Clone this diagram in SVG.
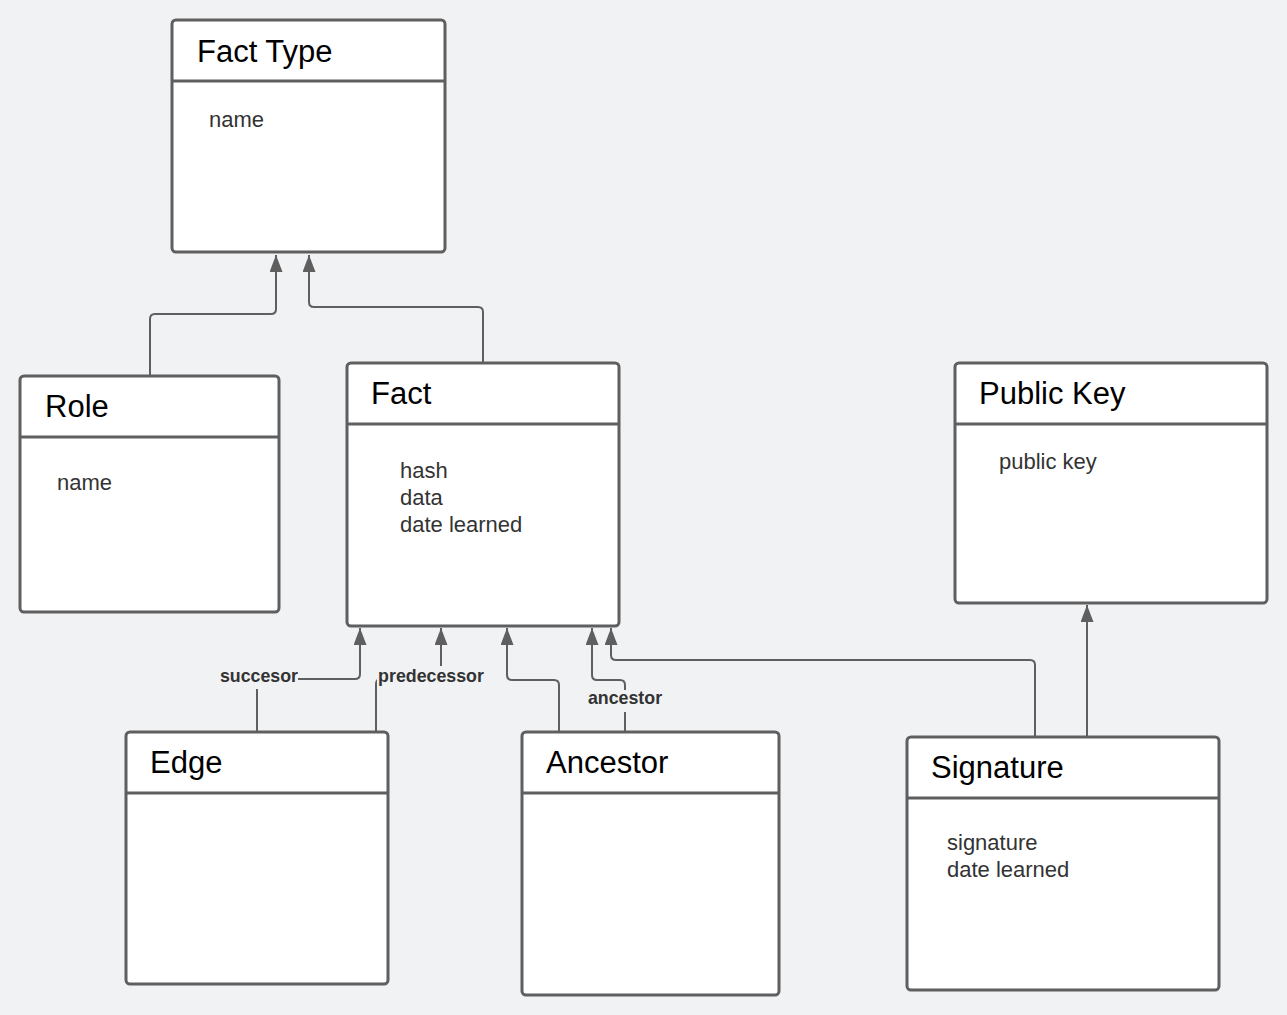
<svg xmlns="http://www.w3.org/2000/svg" width="1287" height="1015" viewBox="0 0 1287 1015">
<style>
.box{fill:#ffffff;stroke:#5f5f5f;stroke-width:3}
.div{stroke:#5f5f5f;stroke-width:3}
.title{font-family:"Liberation Sans",Arial,sans-serif;font-size:31px;fill:#000}
.attr{font-family:"Liberation Sans",Arial,sans-serif;font-size:22px;fill:#333}
.conn{fill:none;stroke:#5f5f5f;stroke-width:2}
.lbl{font-family:"Liberation Sans",Arial,sans-serif;font-size:17.8px;font-weight:bold;fill:#333;text-anchor:middle}
.lblbg{fill:#f1f2f4}
</style>
<defs>
<marker id="arr" viewBox="0 0 17 13" refX="17" refY="6.5" markerWidth="17" markerHeight="13" markerUnits="userSpaceOnUse" orient="auto">
<path d="M0,0 L17,6.5 L0,13 Z" fill="#5f5f5f"/>
</marker>
</defs>
<rect width="1287" height="1015" fill="#f1f2f4"/>

<g id="connectors">
<path class="conn" d="M150,376 V319 Q150,314 155,314 H271 Q276,314 276,309 V255" marker-end="url(#arr)"/>
<path class="conn" d="M483,363 V312 Q483,307 478,307 H314 Q309,307 309,302 V255" marker-end="url(#arr)"/>
<path class="conn" d="M257,732 V679 H355 Q360,679 360,674 V628" marker-end="url(#arr)"/>
<path class="conn" d="M376,732 V684 Q376,679 381,679 H436 Q441,679 441,674 V628" marker-end="url(#arr)"/>
<path class="conn" d="M559,732 V685 Q559,680 554,680 H512 Q507,680 507,675 V628" marker-end="url(#arr)"/>
<path class="conn" d="M625,732 V685 Q625,680 620,680 H597 Q592,680 592,675 V628" marker-end="url(#arr)"/>
<path class="conn" d="M1035,737 V665 Q1035,660 1030,660 H616 Q611,660 611,655 V628" marker-end="url(#arr)"/>
<path class="conn" d="M1087,737 V605" marker-end="url(#arr)"/>
<rect class="lblbg" x="218" y="666" width="80" height="23"/>
<text class="lbl" x="259" y="682">succesor</text>
<rect class="lblbg" x="377" y="666" width="108" height="23"/>
<text class="lbl" x="431" y="682">predecessor</text>
<rect class="lblbg" x="585" y="690" width="80" height="22"/>
<text class="lbl" x="625" y="704">ancestor</text>
</g>

<g id="fact-type">
<rect class="box" x="172" y="20" width="273" height="232" rx="4"/>
<line class="div" x1="172" y1="81" x2="445" y2="81"/>
<text class="title" x="197" y="62">Fact Type</text>
<text class="attr" x="209" y="127">name</text>
</g>

<g id="role">
<rect class="box" x="20" y="376" width="259" height="236" rx="4"/>
<line class="div" x1="20" y1="437" x2="279" y2="437"/>
<text class="title" x="45" y="417">Role</text>
<text class="attr" x="57" y="490">name</text>
</g>

<g id="fact">
<rect class="box" x="347" y="363" width="272" height="263" rx="4"/>
<line class="div" x1="347" y1="424" x2="619" y2="424"/>
<text class="title" x="371" y="404">Fact</text>
<text class="attr" x="400" y="478">hash</text>
<text class="attr" x="400" y="505">data</text>
<text class="attr" x="400" y="532">date learned</text>
</g>

<g id="public-key">
<rect class="box" x="955" y="363" width="312" height="240" rx="4"/>
<line class="div" x1="955" y1="424" x2="1267" y2="424"/>
<text class="title" x="979" y="404">Public Key</text>
<text class="attr" x="999" y="469">public key</text>
</g>

<g id="edge">
<rect class="box" x="126" y="732" width="262" height="252" rx="4"/>
<line class="div" x1="126" y1="793" x2="388" y2="793"/>
<text class="title" x="150" y="773">Edge</text>
</g>

<g id="ancestor">
<rect class="box" x="522" y="732" width="257" height="263" rx="4"/>
<line class="div" x1="522" y1="793" x2="779" y2="793"/>
<text class="title" x="546" y="773">Ancestor</text>
</g>

<g id="signature">
<rect class="box" x="907" y="737" width="312" height="253" rx="4"/>
<line class="div" x1="907" y1="798" x2="1219" y2="798"/>
<text class="title" x="931" y="778">Signature</text>
<text class="attr" x="947" y="850">signature</text>
<text class="attr" x="947" y="877">date learned</text>
</g>
</svg>
